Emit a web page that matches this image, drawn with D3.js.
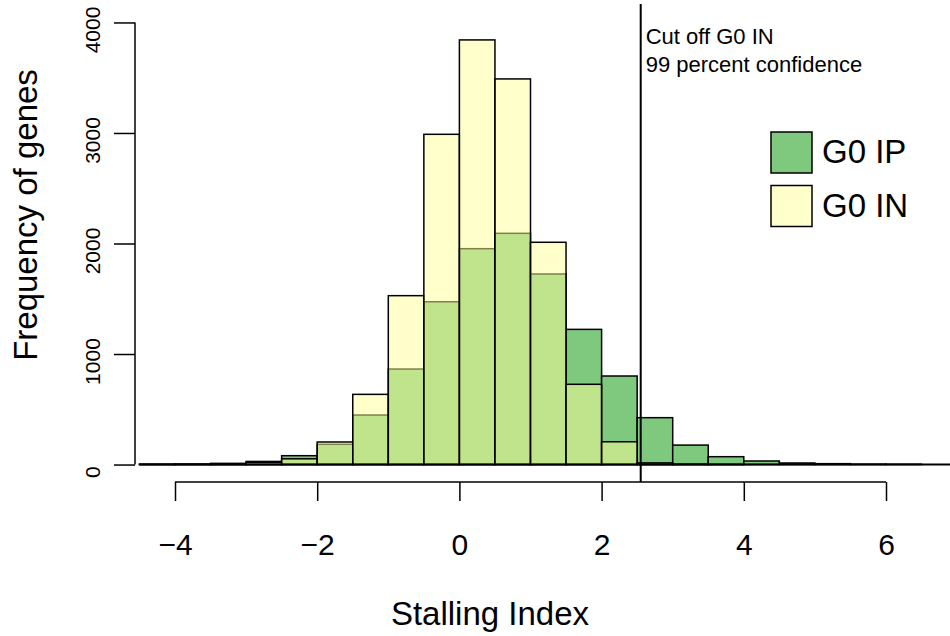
<!DOCTYPE html>
<html>
<head>
<meta charset="utf-8">
<script src="https://cdn.jsdelivr.net/npm/d3@7"></script>
<style>
  body { margin: 0; background: #fff; }
  svg { font-family: "Liberation Sans", Arial, sans-serif; }
</style>
</head>
<body>
<div class="chart"></div>
<script>
// histogram bins (left edges), width 0.5
var binStarts = [-4.5, -4, -3.5, -3, -2.5, -2, -1.5, -1, -0.5, 0, 0.5, 1, 1.5, 2, 2.5, 3, 3.5, 4, 4.5, 5, 5.5, 6];
var binWidth = 0.5;
var ipCounts = [3, 4, 10, 28, 80, 183, 448, 864, 1473, 1953, 2092, 1724, 1223, 801, 424, 176, 71, 32, 14, 8, 4, 3];
var inCounts = [2, 3, 8, 20, 52, 204, 635, 1528, 2988, 3842, 3489, 2011, 726, 206, 15, 4, 1, 0, 0, 0, 0, 0];
var xTicks = [-4, -2, 0, 2, 4, 6];
var yTicks = [0, 1000, 2000, 3000, 4000];
var cutoff = 2.55;
var seriesNames = ['G0 IP', 'G0 IN'];

var width = 950, height = 636;
var green = '#7fc97f', yellow = '#ffff99';

var x = d3.scaleLinear().domain([-4, 6]).range([175, 886]);
var y = d3.scaleLinear().domain([-158, 4167]).range([482, 4]);

var svg = d3.select('.chart')
    .append('svg')
    .attr('width', width)
    .attr('height', height);

// G0 IP first, solid
svg.append('g').selectAll('rect')
    .data(binStarts)
    .enter()
    .append('rect')
    .attr('x', d => x(d))
    .attr('width', d => x(d + binWidth) - x(d))
    .attr('y', (d, i) => y(ipCounts[i]))
    .attr('height', (d, i) => y(0) - y(ipCounts[i]))
    .attr('fill', green)
    .attr('stroke', '#000')
    .attr('stroke-width', 1.5)

// G0 IN on top, half transparent
svg.append('g').selectAll('rect')
    .data(binStarts)
    .enter()
    .append('rect')
    .attr('x', d => x(d))
    .attr('width', d => x(d + binWidth) - x(d))
    .attr('y', (d, i) => y(inCounts[i]))
    .attr('height', (d, i) => y(0) - y(inCounts[i]))
    .attr('fill', yellow)
    .attr('fill-opacity', 0.5)
    .attr('stroke', '#000')
    .attr('stroke-width', 1.5)

// baseline
svg.append('line')
    .attr('x1', x(binStarts[0])).attr('x2', width)
    .attr('y1', y(0)).attr('y2', y(0))
    .attr('stroke', '#000')
    .attr('stroke-width', 2)

// cutoff line
svg.append('line')
    .attr('x1', x(cutoff)).attr('x2', x(cutoff))
    .attr('y1', y.range()[1]).attr('y2', y.range()[0])
    .attr('stroke', '#000')
    .attr('stroke-width', 2)

svg.append('text')
    .attr('x', x(cutoff) + 5).attr('y', 44)
    .attr('font-size', 22)
    .text('Cut off G0 IN')
svg.append('text')
    .attr('x', x(cutoff) + 5).attr('y', 72)
    .attr('font-size', 22)
    .text('99 percent confidence')

// x axis
var xAxis = d3.axisBottom(x)
    .tickValues(xTicks)
    .tickSize(19)
    .tickPadding(33)
    .tickSizeOuter(0);
var gx = svg.append('g')
    .attr('transform', `translate(0, 482)`)
    .call(xAxis);
gx.select('.domain').remove();
gx.append('line')
    .attr('x1', x(xTicks[0])).attr('x2', x(xTicks[xTicks.length - 1]))
    .attr('stroke', '#000')
    .attr('stroke-width', 1.5)
gx.selectAll('.tick line').attr('stroke-width', 1.5);
gx.selectAll('text')
    .attr('font-size', 30)
    .attr('font-family', '"Liberation Sans", Arial, sans-serif')
    .attr('fill', '#000')

// y axis
var yAxis = d3.axisLeft(y)
    .tickValues(yTicks)
    .tickFormat(d3.format('d'))
    .tickSize(21)
    .tickSizeOuter(0);
var gy = svg.append('g')
    .attr('transform', `translate(135, 0)`)
    .call(yAxis);
gy.select('.domain').remove();
gy.append('line')
    .attr('y1', y(yTicks[0])).attr('y2', y(yTicks[yTicks.length - 1]))
    .attr('stroke', '#000')
    .attr('stroke-width', 1.5)
gy.selectAll('.tick line').attr('stroke-width', 1.5);
gy.selectAll('text')
    .attr('x', null)
    .attr('dy', null)
    .attr('text-anchor', 'middle')
    .attr('transform', 'translate(-35, 7) rotate(-90)')
    .attr('font-size', 21)
    .attr('font-family', '"Liberation Sans", Arial, sans-serif')
    .attr('fill', '#000')

// axis titles
svg.append('text')
    .attr('x', 490).attr('y', 625)
    .attr('text-anchor', 'middle')
    .attr('font-size', 33)
    .text('Stalling Index')
svg.append('text')
    .attr('transform', 'translate(37, 215) rotate(-90)')
    .attr('text-anchor', 'middle')
    .attr('font-size', 33)
    .text('Frequency of genes')

// legend
var legendColors = [green, '#ffffcc'];
var legend = svg.append('g').selectAll('g')
    .data(seriesNames)
    .enter()
    .append('g')
    .attr('transform', (d, i) => `translate(771, ${132 + i * 53.5})`)
legend.append('rect')
    .attr('width', 41)
    .attr('height', 41)
    .attr('fill', (d, i) => legendColors[i])
    .attr('stroke', '#000')
    .attr('stroke-width', 1.5)
legend.append('text')
    .attr('x', 51)
    .attr('y', 31)
    .attr('font-size', 33)
    .text(d => d)
</script>
</body>
</html>
